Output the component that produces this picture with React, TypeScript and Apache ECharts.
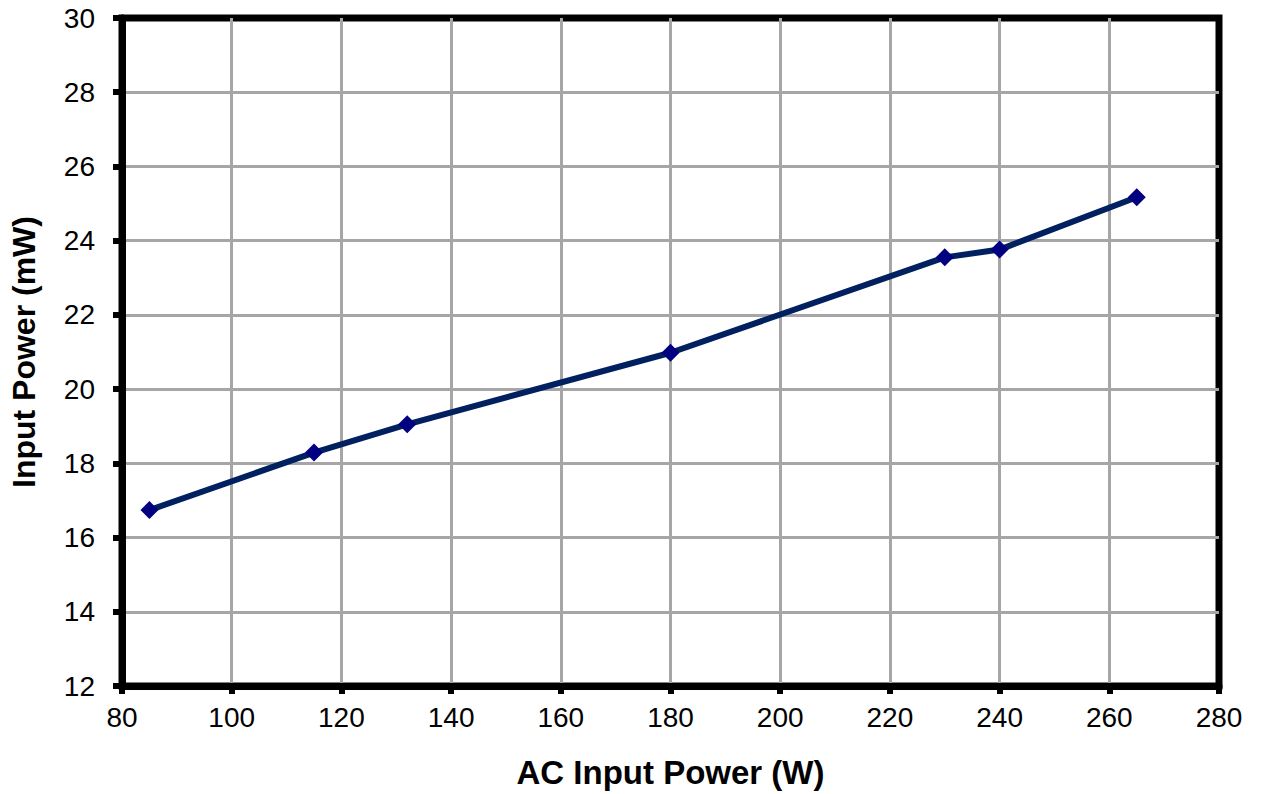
import React, { useEffect, useRef } from "react";
import * as echarts from "echarts";

// AC input (W) vs measured input power (mW)
const acInput = [85, 115, 132, 180, 230, 240, 265];
const inputPower = [16.74, 18.29, 19.05, 20.98, 23.55, 23.76, 25.17];

const xTicks = { min: 80, max: 280, interval: 20 };
const yTicks = { min: 12, max: 30, interval: 2 };

const FONT = "'Liberation Sans', Arial, sans-serif";

export default function App() {
  const ref = useRef<HTMLDivElement>(null);

  useEffect(() => {
    document.body.style.margin = "0";
    if (!ref.current) return;
    const chart = echarts.init(ref.current, undefined, { renderer: "svg" });
    const gridLine = {
      show: true,
      showMinLine: false,
      showMaxLine: false,
      lineStyle: { color: "#a6a6a6", width: 3 },
    };
    chart.setOption({
      animation: false,
      backgroundColor: "#ffffff",
      grid: {
        left: 122,
        top: 18,
        right: 42,
        bottom: 108,
        show: true,
        borderColor: "#000000",
        borderWidth: 7,
      },
      xAxis: {
        type: "value",
        min: xTicks.min,
        max: xTicks.max,
        interval: xTicks.interval,
        name: "AC Input Power (W)",
        nameLocation: "middle",
        nameGap: 70,
        nameTextStyle: { fontFamily: FONT, fontSize: 33, fontWeight: "bold", color: "#000" },
        axisLine: { show: true, onZero: false, lineStyle: { color: "#000", width: 7 } },
        axisTick: { show: true, length: 8, lineStyle: { color: "#000", width: 6 } },
        axisLabel: { fontFamily: FONT, fontSize: 28, color: "#000", margin: 17 },
        splitLine: gridLine,
      },
      yAxis: {
        type: "value",
        min: yTicks.min,
        max: yTicks.max,
        interval: yTicks.interval,
        name: "Input Power (mW)",
        nameLocation: "middle",
        nameGap: 82,
        nameTextStyle: { fontFamily: FONT, fontSize: 32, fontWeight: "bold", color: "#000" },
        axisLine: { show: true, onZero: false, lineStyle: { color: "#000", width: 7 } },
        axisTick: { show: true, length: 9, lineStyle: { color: "#000", width: 6 } },
        axisLabel: { fontFamily: FONT, fontSize: 28, color: "#000", margin: 27 },
        splitLine: gridLine,
      },
      series: [
        {
          type: "line",
          data: acInput.map((x, i) => [x, inputPower[i]]),
          symbol: "diamond",
          symbolSize: 18,
          itemStyle: { color: "#000080" },
          lineStyle: { color: "#002060", width: 6 },
        },
      ],
    });
    return () => chart.dispose();
  }, []);

  return <div ref={ref} style={{ width: 1261, height: 794 }} />;
}
